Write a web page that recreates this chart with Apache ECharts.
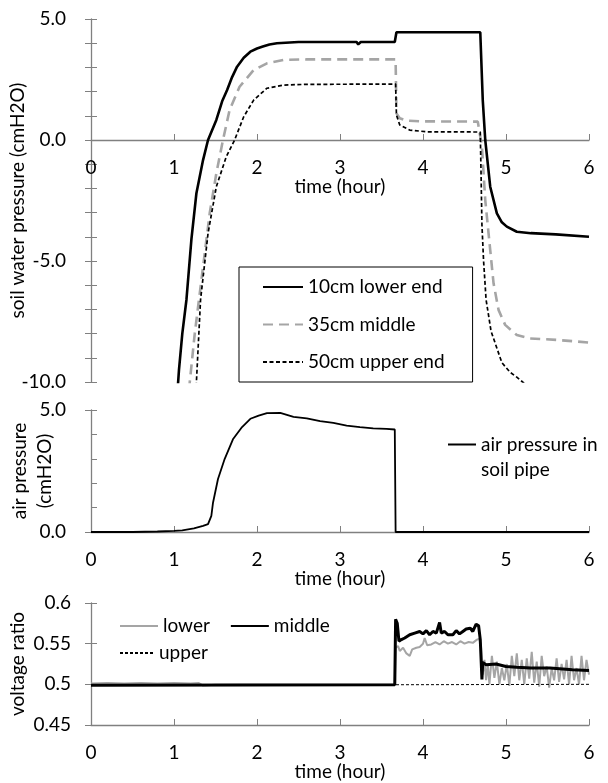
<!DOCTYPE html>
<html>
<head>
<meta charset="utf-8">
<script src="https://cdn.jsdelivr.net/npm/echarts@6/dist/echarts.min.js"></script>
<style>
  html, body { margin: 0; padding: 0; background: #fff; }
  #chart { width: 608px; height: 783px; }
</style>
</head>
<body>
<div id="chart"></div>
<script>
const xTicks = [0, 1, 2, 3, 4, 5, 6];

const soil10 = [[1.03,-11],[1.06,-9.5],[1.10,-8.0],[1.15,-6.6],[1.21,-4.1],[1.27,-2.2],[1.35,-0.83],[1.41,0],[1.51,0.83],[1.58,1.6],[1.64,2.07],[1.70,2.6],[1.76,3.03],[1.84,3.4],[1.92,3.65],[2.0,3.78],[2.07,3.86],[2.15,3.95],[2.24,4.0],[2.5,4.05],[3.2,4.05],[3.22,3.95],[3.25,4.05],[3.66,4.05],[3.68,4.45],[3.9,4.45],[3.92,4.38],[3.95,4.45],[4.69,4.45],[4.72,1.65],[4.75,0],[4.81,-1.93],[4.89,-3.03],[4.95,-3.4],[5.01,-3.58],[5.13,-3.79],[5.3,-3.85],[5.6,-3.9],[6.0,-4.0]];
const soil35 = [[1.17,-11],[1.19,-10],[1.25,-8.0],[1.35,-5.24],[1.43,-3.03],[1.51,-1.38],[1.59,0],[1.67,1.24],[1.79,2.2],[1.96,2.89],[2.12,3.17],[2.32,3.31],[2.6,3.33],[3.67,3.33],[3.68,1.1],[3.72,0.9],[3.8,0.8],[4.0,0.77],[4.66,0.76],[4.71,-0.28],[4.75,-2.48],[4.81,-4.55],[4.85,-5.92],[4.91,-7.02],[4.99,-7.64],[5.13,-8.06],[5.29,-8.2],[5.61,-8.26],[6.0,-8.37]];
const soil50 = [[1.25,-11],[1.27,-10],[1.32,-6.6],[1.41,-3.86],[1.51,-1.93],[1.63,-0.69],[1.73,0],[1.84,0.96],[1.96,1.65],[2.12,2.14],[2.32,2.27],[2.6,2.3],[3.67,2.31],[3.68,1.03],[3.72,0.62],[3.84,0.41],[4.04,0.34],[4.69,0.33],[4.70,-1.5],[4.71,-3.5],[4.73,-5.0],[4.76,-6.6],[4.82,-7.9],[4.88,-8.5],[4.95,-9.2],[5.05,-9.6],[5.13,-9.8],[5.2,-10.0],[5.3,-10.3]];

const airPipe = [[0,0],[0.5,0],[0.8,0.02],[1.0,0.05],[1.1,0.07],[1.24,0.15],[1.35,0.25],[1.41,0.32],[1.45,0.66],[1.47,1.2],[1.53,2.17],[1.61,2.99],[1.71,3.8],[1.82,4.3],[1.92,4.64],[2.02,4.77],[2.12,4.87],[2.28,4.88],[2.44,4.72],[2.6,4.66],[2.76,4.54],[2.92,4.47],[3.08,4.36],[3.24,4.3],[3.4,4.25],[3.56,4.23],[3.66,4.2],[3.67,0],[6,0]];

const volLower = [[0,0.501],[0.2,0.5015],[0.4,0.501],[0.6,0.5015],[0.8,0.501],[1.0,0.5015],[1.2,0.501],[1.3,0.5015],[1.35,0.4985],[1.5,0.4995],[3.66,0.4995],[3.67,0.545],[3.7,0.547],[3.72,0.541],[3.76,0.545],[3.8,0.538],[3.84,0.535],[3.87,0.543],[3.92,0.545],[3.96,0.546],[4.0,0.55],[4.02,0.557],[4.05,0.548],[4.1,0.549],[4.15,0.552],[4.2,0.549],[4.25,0.553],[4.3,0.55],[4.35,0.552],[4.4,0.549],[4.45,0.553],[4.5,0.55],[4.55,0.552],[4.6,0.551],[4.65,0.555],[4.68,0.556],[4.7,0.545],[4.72,0.512],[4.74,0.53],[4.76,0.505],[4.78,0.525],[4.8,0.5],[4.83,0.535],[4.86,0.508],[4.89,0.528],[4.92,0.5],[4.95,0.52],[4.98,0.505],[5.01,0.525],[5.04,0.498],[5.07,0.535],[5.1,0.51],[5.13,0.538],[5.16,0.505],[5.19,0.53],[5.22,0.5],[5.25,0.532],[5.28,0.507],[5.31,0.54],[5.34,0.502],[5.37,0.528],[5.40,0.497],[5.43,0.535],[5.46,0.51],[5.49,0.522],[5.52,0.496],[5.55,0.52],[5.58,0.505],[5.61,0.532],[5.64,0.503],[5.67,0.525],[5.7,0.506],[5.73,0.53],[5.76,0.5],[5.79,0.535],[5.82,0.505],[5.85,0.52],[5.88,0.5],[5.91,0.535],[5.94,0.505],[5.97,0.53],[6.0,0.512]];
const volMiddle = [[0,0.499],[3.66,0.4995],[3.67,0.58],[3.69,0.575],[3.71,0.553],[3.74,0.555],[3.78,0.557],[3.84,0.561],[3.9,0.563],[3.96,0.565],[4.0,0.562],[4.04,0.566],[4.08,0.561],[4.12,0.565],[4.16,0.563],[4.2,0.576],[4.22,0.563],[4.26,0.565],[4.3,0.561],[4.36,0.561],[4.4,0.566],[4.44,0.562],[4.48,0.565],[4.52,0.568],[4.57,0.569],[4.6,0.565],[4.64,0.574],[4.67,0.572],[4.69,0.555],[4.71,0.506],[4.72,0.527],[4.76,0.524],[4.88,0.525],[5.0,0.522],[5.13,0.521],[5.3,0.52],[5.53,0.52],[5.8,0.518],[6.0,0.517]];
const volUpper = [[0,0.4995],[3.67,0.4995],[3.68,0.5],[6,0.5]];

const FONT = "Lato";
const AXIS = "#808080";
const GRAY = "#a5a5a5";
const txt = { color: "#000", fontFamily: FONT, fontSize: 19 };

// offset: pixel shift of the axis from the grid bottom (top panel's axis crosses at y = 0)
function xAx(gi, offset) {
    return {
        type: "value", gridIndex: gi, position: "bottom", offset: offset,
        min: xTicks[0], max: xTicks[xTicks.length - 1], interval: 1,
        axisLine: { onZero: false, lineStyle: { color: AXIS, width: 1.3 } },
        axisTick: { inside: true, length: 6, lineStyle: { color: AXIS } },
        axisLabel: Object.assign({ margin: 18 }, txt),
        splitLine: { show: false },
        name: "time (hour)", nameLocation: "middle", nameGap: 37, nameMoveOverlap: false,
        nameTextStyle: txt
    };
}

function yAx(gi, min, max, interval, fmt, margin, name, gap, inner) {
    return {
        type: "value", gridIndex: gi, position: "left", min: min, max: max, interval: interval,
        axisLine: { show: !inner, onZero: false, lineStyle: { color: AXIS, width: 1.3 } },
        axisTick: { inside: !!inner, length: 6, lineStyle: { color: AXIS } },
        axisLabel: inner ? { show: false } : Object.assign({ margin: margin, formatter: fmt }, txt),
        splitLine: { show: false },
        name: inner ? "" : name, nameLocation: "middle", nameGap: gap, nameMoveOverlap: false,
        nameTextStyle: Object.assign({ lineHeight: 25 }, txt)
    };
}

const fmt5 = v => (Math.round(v) % 5 === 0 ? v.toFixed(1) : "");
const fmtV = v => String(parseFloat(v.toFixed(2)));

const chart = echarts.init(document.getElementById("chart"), null, { renderer: "canvas" });

const option = {
    animation: false,
    backgroundColor: "#fff",
    grid: [
        { left: 91, top: 19, width: 498, height: 363, outerBoundsMode: "none" },
        { left: 91, top: 410, width: 498, height: 122, outerBoundsMode: "none" },
        { left: 91, top: 603, width: 498, height: 122, outerBoundsMode: "none" }
    ],
    xAxis: [xAx(0, -242), xAx(1, 0), xAx(2, 0)],
    yAxis: [
        yAx(0, -10, 5, 1, fmt5, 25, "soil water pressure (cmH2O)", 61),
        yAx(0, -10, 5, 1, null, 0, "", 0, true),
        yAx(1, 0, 5, 5, v => v.toFixed(1), 25, "air pressure\n(cmH2O)", 34),
        yAx(1, 0, 5, 1, null, 0, "", 0, true),
        yAx(2, 0.45, 0.6, 0.05, fmtV, 20, "voltage ratio", 61),
        yAx(2, 0.45, 0.6, 0.05, null, 0, "", 0, true)
    ],
    legend: [
        {
            data: ["10cm lower end", "35cm middle", "50cm upper end"],
            orient: "vertical", left: 239, top: 267,
            itemWidth: 40, itemHeight: 10, itemGap: 17.5,
            padding: [10, 28, 10, 23],
            borderColor: "#000", borderWidth: 1,
            itemStyle: { opacity: 0 },
            textStyle: Object.assign({ lineHeight: 20 }, txt)
        },
        {
            data: ["air pressure in soil pipe"],
            left: 447, top: 407, padding: 0,
            itemWidth: 28, itemHeight: 10,
            itemStyle: { opacity: 0 },
            // empty first line keeps the icon level with "air pressure in"
            formatter: () => "\nair pressure in\nsoil pipe",
            textStyle: Object.assign({ lineHeight: 25 }, txt)
        },
        {
            data: ["lower", "middle"],
            orient: "horizontal", left: 119, top: 616, padding: 0,
            itemWidth: 38, itemHeight: 10, itemGap: 20,
            itemStyle: { opacity: 0 },
            textStyle: Object.assign({ lineHeight: 20 }, txt)
        },
        {
            data: ["upper"],
            left: 119, top: 643, padding: 0,
            itemWidth: 34, itemHeight: 10,
            itemStyle: { opacity: 0 },
            textStyle: Object.assign({ lineHeight: 20 }, txt)
        }
    ],
    series: [
        { name: "10cm lower end", type: "line", xAxisIndex: 0, yAxisIndex: 0, data: soil10, symbol: "none", clip: true,
          lineStyle: { color: "#000", width: 2.6 }, itemStyle: { color: "#000" }, z: 4 },
        { name: "35cm middle", type: "line", xAxisIndex: 0, yAxisIndex: 0, data: soil35, symbol: "none", clip: true,
          lineStyle: { color: GRAY, width: 2.6, type: [10, 6] }, itemStyle: { color: GRAY }, z: 3 },
        { name: "50cm upper end", type: "line", xAxisIndex: 0, yAxisIndex: 0, data: soil50, symbol: "none", clip: true,
          lineStyle: { color: "#000", width: 1.7, type: [4, 2.5] }, itemStyle: { color: "#000" }, z: 3 },
        { name: "air pressure in soil pipe", type: "line", xAxisIndex: 1, yAxisIndex: 2, data: airPipe, symbol: "none", clip: true,
          lineStyle: { color: "#000", width: 1.8 }, itemStyle: { color: "#000" } },
        { name: "lower", type: "line", xAxisIndex: 2, yAxisIndex: 4, data: volLower, symbol: "none", clip: true,
          lineStyle: { color: GRAY, width: 2 }, itemStyle: { color: GRAY }, z: 2 },
        { name: "middle", type: "line", xAxisIndex: 2, yAxisIndex: 4, data: volMiddle, symbol: "none", clip: true,
          lineStyle: { color: "#000", width: 3 }, itemStyle: { color: "#000" }, z: 3 },
        { name: "upper", type: "line", xAxisIndex: 2, yAxisIndex: 4, data: volUpper, symbol: "none", clip: true,
          lineStyle: { color: "#000", width: 1, type: [3, 2] }, itemStyle: { color: "#000" }, z: 4 }
    ]
};

chart.setOption(option);
</script>
</body>
</html>
